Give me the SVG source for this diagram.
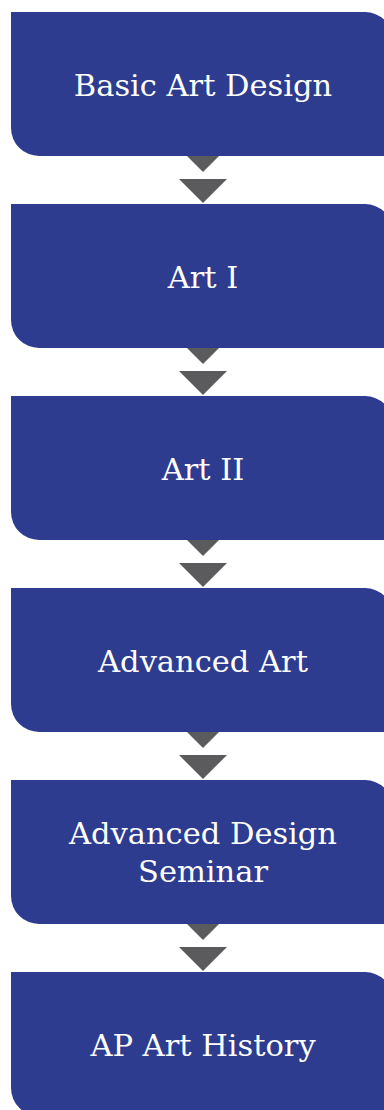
<svg xmlns="http://www.w3.org/2000/svg" width="384" height="1110" viewBox="0 0 384 1110">
<style>
.box{fill:#2d3c8e}
.arr{fill:#5b5b5d}
.lbl{font-family:"DejaVu Serif","Liberation Serif",serif;font-size:30.5px;fill:#ffffff;text-anchor:middle}
</style>
<defs>
<path id="shape" d="M11,0 H365 A28,28 0 0 1 393,28 V144 H39 A28,28 0 0 1 11,116 Z"/>
<path id="chev" d="M179,-8 H227 L203,16 Z M179,23 H227 L203,47 Z"/>
</defs>
<g id="connectors">
<use href="#chev" class="arr" transform="translate(0,156)"/>
<use href="#chev" class="arr" transform="translate(0,348)"/>
<use href="#chev" class="arr" transform="translate(0,540)"/>
<use href="#chev" class="arr" transform="translate(0,732)"/>
<use href="#chev" class="arr" transform="translate(0,924)"/>
</g>
<g id="node1"><use href="#shape" class="box" transform="translate(0,12)"/><text class="lbl" x="203" y="95.5">Basic Art Design</text></g>
<g id="node2"><use href="#shape" class="box" transform="translate(0,204)"/><text class="lbl" x="203" y="287.5">Art I</text></g>
<g id="node3"><use href="#shape" class="box" transform="translate(0,396)"/><text class="lbl" x="203" y="479.5">Art II</text></g>
<g id="node4"><use href="#shape" class="box" transform="translate(0,588)"/><text class="lbl" x="203" y="671.5">Advanced Art</text></g>
<g id="node5"><use href="#shape" class="box" transform="translate(0,780)"/><text class="lbl" x="203" y="844">Advanced Design</text><text class="lbl" x="203" y="882">Seminar</text></g>
<g id="node6"><use href="#shape" class="box" transform="translate(0,972)"/><text class="lbl" x="203" y="1055.5">AP Art History</text></g>
</svg>
